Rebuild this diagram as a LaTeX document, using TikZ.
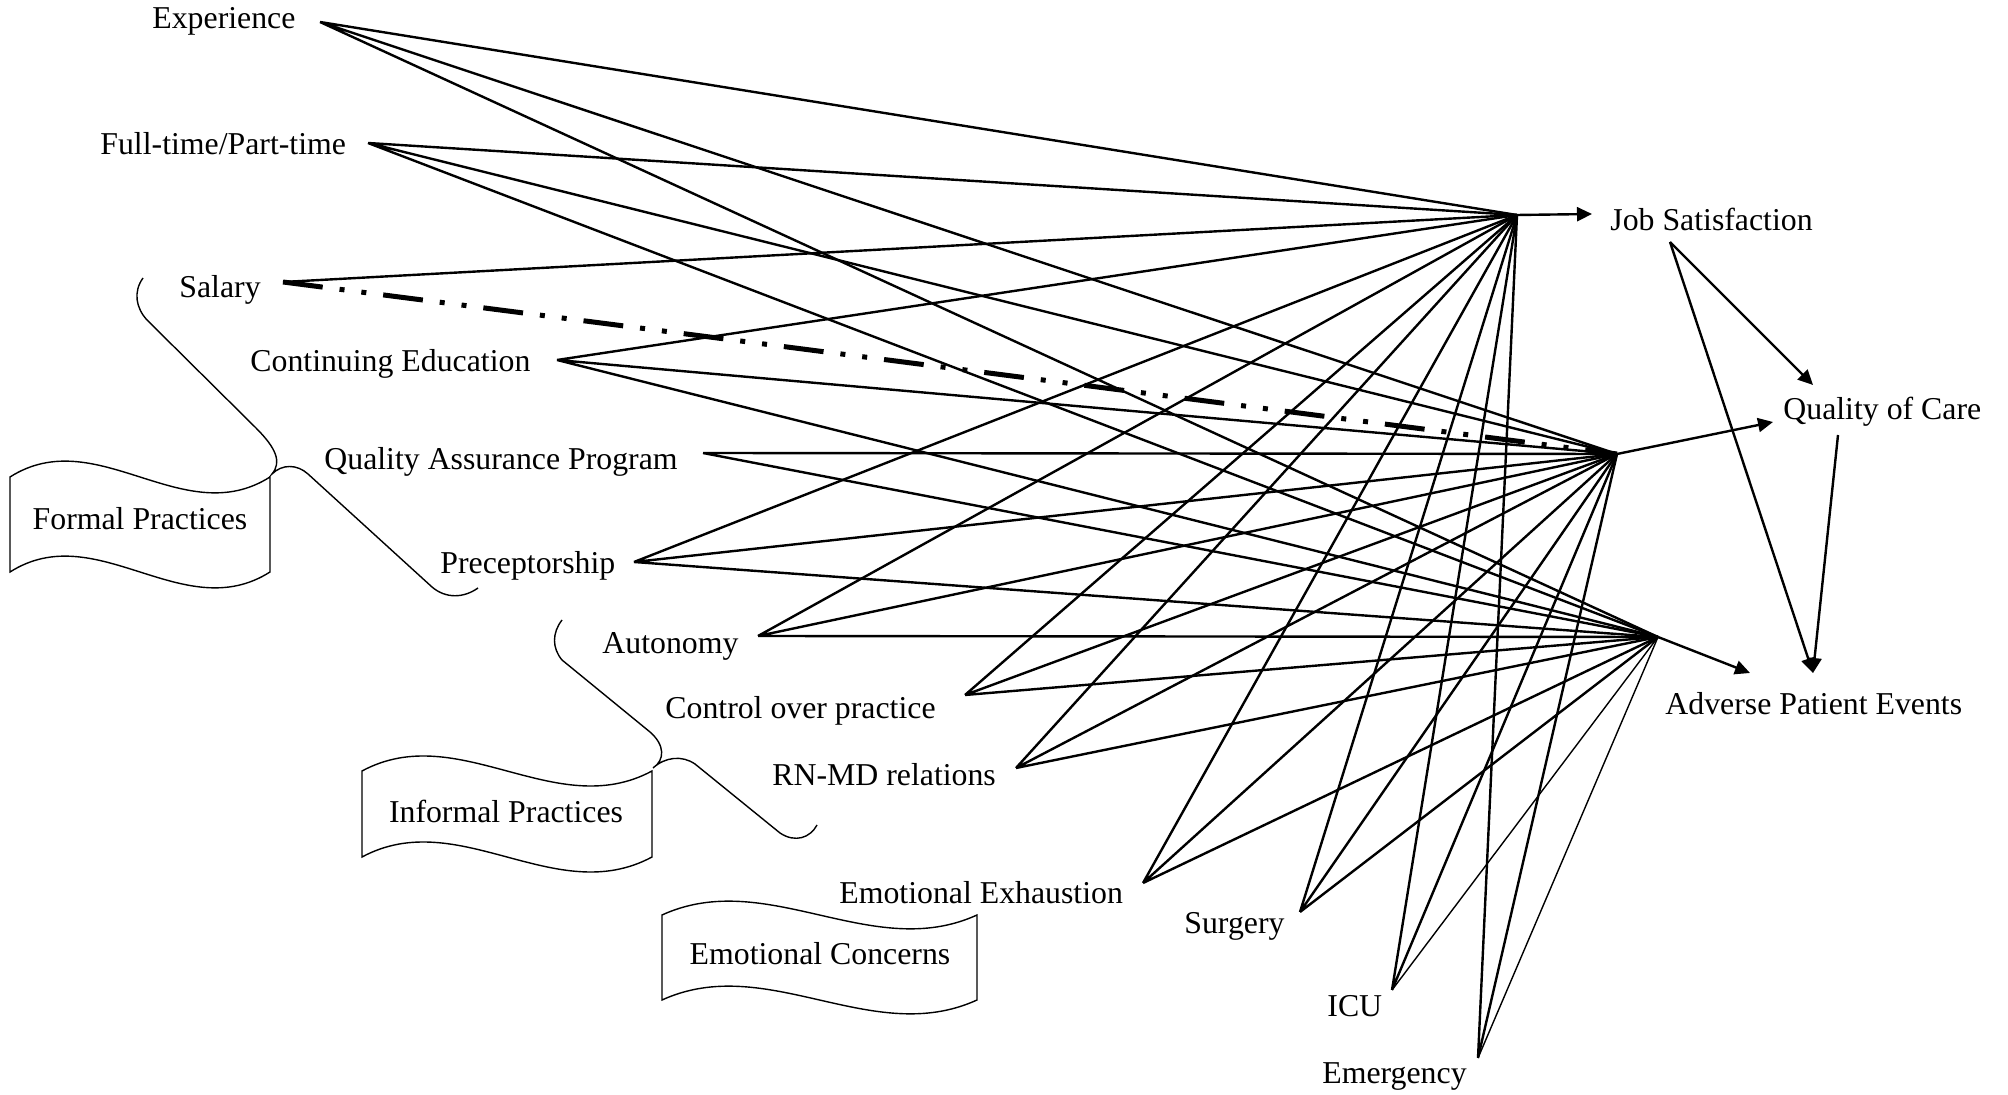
\documentclass[tikz,border=0pt]{standalone}
\usepackage{fontspec}
\setmainfont{Liberation Serif}
\usetikzlibrary{arrows.meta}

\tikzset{
  lbl/.style={inner sep=0pt, anchor=mid west, yshift=-2pt, font=\fontsize{15.9}{19}\selectfont},
  boxlbl/.style={inner sep=0pt, anchor=mid, yshift=-2pt, font=\fontsize{15.9}{19}\selectfont},
  link/.style={line width=1.2pt},
  thinlink/.style={line width=0.7pt},
  arr/.style={line width=1.2pt, -{Triangle[length=7.5pt,width=7pt]}},
  outline/.style={line width=0.7pt},
  dashdot/.style={line width=2.5pt, dash pattern=on 20pt off 8.5pt on 2.5pt off 8.5pt on 2.5pt off 8.5pt}
}

\begin{document}
\begin{tikzpicture}[x=0.5pt, y=-0.5pt]
    \useasboundingbox (0,0) rectangle (2008,1095);

    % labels
    \node[lbl] (exp)  at (152,20)   {Experience};
    \node[lbl] (ft)   at (100,146)  {Full-time/Part-time};
    \node[lbl] (sal)  at (179,289)  {Salary};
    \node[lbl] (ce)   at (250,363)  {Continuing Education};
    \node[lbl] (qap)  at (324,461)  {Quality Assurance Program};
    \node[lbl] (pre)  at (440,565)  {Preceptorship};
    \node[lbl] (aut)  at (602,645)  {Autonomy};
    \node[lbl] (cop)  at (665,710)  {Control over practice};
    \node[lbl] (rnmd) at (772,777)  {RN-MD relations};
    \node[lbl] (ee)   at (839,895)  {Emotional Exhaustion};
    \node[lbl] (sur)  at (1184,925) {Surgery};
    \node[lbl] (icu)  at (1327,1008) {ICU};
    \node[lbl] (emg)  at (1322,1075) {Emergency};

    \node[lbl] (jsat) at (1610,222) {Job Satisfaction};
    \node[lbl] (qoc)  at (1783,411) {Quality of Care};
    \node[lbl] (ape)  at (1665,706) {Adverse Patient Events};

    % line ends
    \coordinate (exp-o)  at (320,22);
    \coordinate (ft-o)   at (368,143);
    \coordinate (sal-o)  at (283,282);
    \coordinate (ce-o)   at (557,360);
    \coordinate (qap-o)  at (703,453);
    \coordinate (pre-o)  at (634,562);
    \coordinate (aut-o)  at (758,636);
    \coordinate (cop-o)  at (965,695);
    \coordinate (rnmd-o) at (1016,768);
    \coordinate (ee-o)   at (1143,883);
    \coordinate (sur-o)  at (1300,912);
    \coordinate (icu-o)  at (1392,990);
    \coordinate (emg-o)  at (1478,1058);

    % hubs
    \coordinate (js-hub)  at (1517,215);
    \coordinate (qc-hub)  at (1617,454);
    \coordinate (ape-hub) at (1658,637);

    % links
    \foreach \s in {exp,ft,ce,pre,aut,cop,rnmd,ee,sur}
        \draw[link] (\s-o) -- (js-hub) (\s-o) -- (qc-hub) (\s-o) -- (ape-hub);
    \foreach \s in {icu,emg}
        \draw[link] (\s-o) -- (js-hub) (\s-o) -- (qc-hub);
    \foreach \s in {icu,emg}
        \draw[thinlink] (\s-o) -- (ape-hub);
    \draw[link] (qap-o) -- (qc-hub) (qap-o) -- (ape-hub);
    \draw[link] (sal-o) -- (js-hub);
    \draw[dashdot] (sal-o) -- (qc-hub);

    % outcomes
    \coordinate (js-in)  at (1592,214);
    \coordinate (qc-in)  at (1773,422);
    \coordinate (ape-in) at (1750,673);
    \coordinate (js-out) at (1670,242);
    \coordinate (qc-out) at (1838,435);
    \coordinate (qc-top) at (1813,385);
    \coordinate (ape-top) at (1813,673);
    \draw[arr] (js-hub) -- (js-in);
    \draw[arr] (qc-hub) -- (qc-in);
    \draw[arr] (ape-hub) -- (ape-in);
    \draw[arr] (js-out) -- (qc-top);
    \draw[arr] (js-out) -- (ape-top);
    \draw[arr] (qc-out) -- (ape-top);

    % banners
    \foreach \x/\y/\w/\h/\d in {10/477/260/95/55, 362/771/290/86/52, 662/915/315/85/48}
        \draw[outline] (\x,\y) .. controls +({\w/3},-\d) and +({-\w/3},\d) .. ++(\w,0)
            -- ++(0,\h) .. controls +({-\w/3},\d) and +({\w/3},-\d) .. ++(-\w,0) -- cycle;
    \node[boxlbl] (formal)   at (140,521) {Formal Practices};
    \node[boxlbl] (informal) at (506,814) {Informal Practices};
    \node[boxlbl] (emo)      at (820,956) {Emotional Concerns};

    % braces
    \draw[outline] (143,278) .. controls (133,292) and (136,308) .. (147,320) -- (256,428)
        .. controls (276,448) and (282,462) .. (272,474)
        .. controls (282,464) and (297,464) .. (308,474) -- (432,587)
        .. controls (446,599) and (464,598) .. (478,588);
    \draw[outline] (562,620) .. controls (552,633) and (552,648) .. (562,660) -- (650,732)
        .. controls (665,745) and (665,760) .. (653,768)
        .. controls (665,757) and (682,755) .. (695,764) -- (780,833)
        .. controls (795,843) and (810,838) .. (817,825);
\end{tikzpicture}
\end{document}
